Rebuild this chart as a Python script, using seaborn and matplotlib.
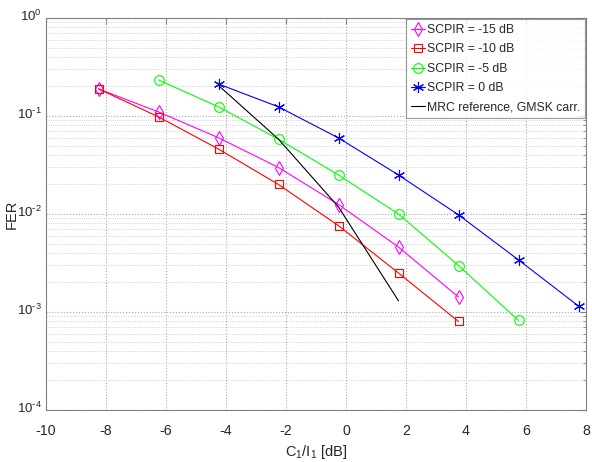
import numpy as np
import pandas as pd
import matplotlib
matplotlib.use("Agg")
import matplotlib.pyplot as plt
import matplotlib.transforms as mtransforms
import seaborn as sns
from matplotlib import font_manager
from matplotlib.ticker import LogLocator, NullFormatter, FuncFormatter

# ---- data ----
x_m15 = [-8.25, -6.25, -4.25, -2.25, -0.25, 1.75, 3.75]
fer_m15 = [0.189, 0.110, 0.060, 0.0298, 0.0125, 0.0046, 0.00142]

x_m10 = [-8.25, -6.25, -4.25, -2.25, -0.25, 1.75, 3.75]
fer_m10 = [0.189, 0.098, 0.046, 0.0200, 0.0076, 0.0025, 0.00080]

x_m5 = [-6.25, -4.25, -2.25, -0.25, 1.75, 3.75, 5.75]
fer_m5 = [0.233, 0.124, 0.058, 0.025, 0.0100, 0.00298, 0.00082]

x_0 = [-4.25, -2.25, -0.25, 1.75, 3.75, 5.75, 7.75]
fer_0 = [0.212, 0.124, 0.0597, 0.025, 0.0098, 0.0034, 0.00115]

x_ref = [-4.25, -2.25, -0.25, 1.75]
fer_ref = [0.205, 0.058, 0.0118, 0.00130]

labels = ["SCPIR = -15 dB", "SCPIR = -10 dB", "SCPIR = -5 dB", "SCPIR = 0 dB",
          "MRC reference, GMSK carr."]
x_ticks = [-10, -8, -6, -4, -2, 0, 2, 4, 6, 8]

sns.set_style("white")
plt.rcParams["font.family"] = ["Liberation Sans", "DejaVu Sans"]
plt.rcParams["mathtext.default"] = "regular"

installed = {f.name for f in font_manager.fontManager.ttflist}
narrow = "Liberation Sans Narrow" if "Liberation Sans Narrow" in installed else "Liberation Sans"
ytick_size = 11 if narrow == "Liberation Sans Narrow" else 9.5

fig = plt.figure(figsize=(5.92, 4.62), dpi=100)
ax = fig.add_axes([46 / 592, 1 - 410 / 462, 540 / 592, 392 / 462])

series = [
    (x_m15, fer_m15, labels[0], (1, 0, 1), "d", 7.5),
    (x_m10, fer_m10, labels[1], (1, 0, 0), "s", 6),
    (x_m5, fer_m5, labels[2], (0, 1, 0), "o", 7),
    (x_0, fer_0, labels[3], (0, 0, 1), (6, 2, 0), 8),
]
for xs, ys, lab, col, mk, ms in series:
    df = pd.DataFrame({"x": xs, "y": ys})
    sns.lineplot(data=df, x="x", y="y", ax=ax, color=col, marker=mk,
                 markersize=ms, markerfacecolor="none", markeredgecolor=col,
                 markeredgewidth=0.8, linewidth=0.8, label=lab)

df_ref = pd.DataFrame({"x": x_ref, "y": fer_ref})
sns.lineplot(data=df_ref, x="x", y="y", ax=ax, color="black", linewidth=0.8,
             label=labels[4])

ax.set_yscale("log")
ax.set_xlim(-10, 8)
ax.set_ylim(1e-4, 1)
ax.set_xticks(x_ticks)
ax.set_xticklabels([str(t) for t in x_ticks])
ax.yaxis.set_major_locator(LogLocator(base=10, numticks=10))
ax.yaxis.set_minor_locator(LogLocator(base=10, subs=np.arange(2, 10), numticks=20))
ax.yaxis.set_minor_formatter(NullFormatter())


def _fmt(v, pos):
    e = int(round(np.log10(v)))
    if e < 0:
        return r"$10^{\text{-}%d}$" % (-e)
    return r"$10^{%d}$" % e


ax.yaxis.set_major_formatter(FuncFormatter(_fmt))

ax.grid(True, which="major", axis="both", linestyle=":", color="#a8a8a8", linewidth=0.8)
ax.grid(True, which="minor", axis="y", linestyle=":", color="#c4c4c4", linewidth=0.6)
ax.tick_params(axis="both", which="both", direction="in",
               color="#808080", top=True, right=True)
ax.tick_params(axis="x", which="major", labelsize=10.2, pad=10)
ax.tick_params(axis="y", which="major", labelsize=ytick_size, pad=3)
ax.tick_params(axis="both", which="major", length=4)
ax.tick_params(axis="both", which="minor", length=2)
for s in ax.spines.values():
    s.set_color("#808080")
    s.set_linewidth(0.8)

# shift y tick labels so that the base "10" sits on the tick
fig.canvas.draw()
offset = mtransforms.ScaledTranslation(0, 3 / 100, fig.dpi_scale_trans)
for lbl in ax.get_yticklabels():
    lbl.set_fontfamily([narrow, "DejaVu Sans"])
    lbl.set_transform(lbl.get_transform() + offset)

ax.set_xlabel(r"C$_1$/I$_1$ [dB]", fontsize=10.5)
ax.xaxis.set_label_coords(0.5, (410 - 443) / 392)
ax.set_ylabel("FER", fontsize=10.5)
ax.yaxis.set_label_coords((19 - 46) / 540, 0.5)

leg = ax.legend(loc="upper right", fontsize=8.8, frameon=True, fancybox=False,
                borderaxespad=0.1, handlelength=1.15, handletextpad=0.15,
                labelspacing=0.6, borderpad=0.4)
leg.get_frame().set_edgecolor("#808080")
leg.get_frame().set_linewidth(0.8)

fig.savefig("out.png", dpi=100)
